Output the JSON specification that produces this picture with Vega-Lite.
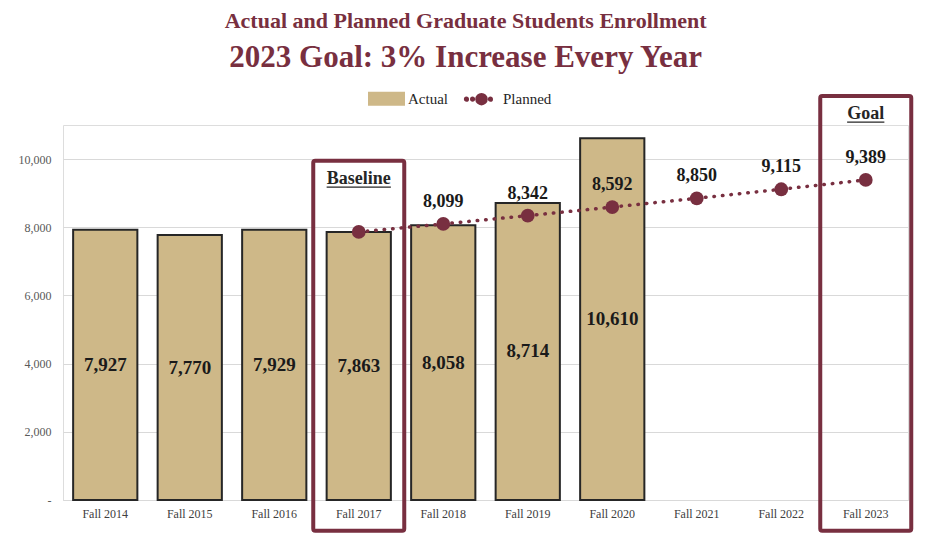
{
  "$schema": "https://vega.github.io/schema/vega-lite/v6.json",
  "description": "Actual vs planned graduate enrollment, 2014-2023",
  "width": 845,
  "height": 375,
  "autosize": {"type": "pad"},
  "padding": {"left": 18, "top": 10, "right": 12, "bottom": 4},
  "background": "white",
  "title": {
    "text": "Actual and Planned Graduate Students Enrollment",
    "subtitle": "2023 Goal: 3% Increase Every Year",
    "font": "Liberation Serif",
    "fontSize": 22,
    "fontWeight": "bold",
    "color": "#782F40",
    "subtitleFont": "Liberation Serif",
    "subtitleFontSize": 31,
    "subtitleFontWeight": "bold",
    "subtitleColor": "#782F40",
    "subtitlePadding": 10,
    "anchor": "middle",
    "frame": "bounds",
    "offset": 6
  },
  "data": {
    "values": [
      {"year": "Fall 2014", "actual": 7927, "planned": null},
      {"year": "Fall 2015", "actual": 7770, "planned": null},
      {"year": "Fall 2016", "actual": 7929, "planned": null},
      {"year": "Fall 2017", "actual": 7863, "planned": 7863},
      {"year": "Fall 2018", "actual": 8058, "planned": 8099},
      {"year": "Fall 2019", "actual": 8714, "planned": 8342},
      {"year": "Fall 2020", "actual": 10610, "planned": 8592},
      {"year": "Fall 2021", "actual": null, "planned": 8850},
      {"year": "Fall 2022", "actual": null, "planned": 9115},
      {"year": "Fall 2023", "actual": null, "planned": 9389}
    ]
  },
  "encoding": {
    "x": {
      "field": "year",
      "type": "ordinal",
      "title": null,
      "scale": {"paddingInner": 0.24, "paddingOuter": 0.12},
      "axis": {
        "labelAngle": 0,
        "labelFont": "Liberation Serif",
        "labelFontSize": 12,
        "labelColor": "#404040",
        "labelPadding": 8,
        "ticks": false,
        "domainColor": "#D9D9D9",
        "grid": false
      }
    }
  },
  "layer": [
    {
      "layer": [
        {
          "mark": {"type": "bar", "fill": "#CEB888", "stroke": "#262626", "strokeWidth": 2},
          "encoding": {
            "y": {
              "field": "actual",
              "type": "quantitative",
              "title": null,
              "scale": {"domain": [0, 11000], "nice": false},
              "axis": {
                "values": [0, 2000, 4000, 6000, 8000, 10000],
                "labelExpr": "datum.value === 0 ? '-' : format(datum.value, ',')",
                "labelFont": "Liberation Serif",
                "labelFontSize": 12,
                "labelColor": "#595959",
                "labelPadding": 12,
                "ticks": false,
                "domain": false,
                "gridColor": "#D9D9D9"
              }
            },
            "color": {
              "datum": "Actual",
              "scale": {"domain": ["Actual", "Planned"], "range": ["#CEB888", "#782F40"]},
              "legend": {
                "orient": "none",
                "legendX": 305,
                "legendY": -45,
                "direction": "horizontal",
                "title": null,
                "labelFont": "Liberation Serif",
                "labelFontSize": 15,
                "labelColor": "#262626",
                "labelOffset": 3,
                "columnPadding": 12,
                "symbolSize": 1225,
                "symbolType": "M-1,-0.34H1V0.34H-1Z",
                "symbolStrokeColor": "#262626",
                "symbolStrokeWidth": 2,
                "symbolOpacity": 1,
                "encode": {
                  "symbols": {
                    "update": {
                      "shape": {"signal": "datum.value === 'Actual' ? 'M-1,-0.34H1V0.34H-1Z' : 'M-0.3,0A0.3,0.3 0 1,0 0.3,0A0.3,0.3 0 1,0 -0.3,0Z M-0.95,0A0.09,0.09 0 1,0 -0.77,0A0.09,0.09 0 1,0 -0.95,0Z M-0.6,0A0.09,0.09 0 1,0 -0.42,0A0.09,0.09 0 1,0 -0.6,0Z M0.42,0A0.09,0.09 0 1,0 0.6,0A0.09,0.09 0 1,0 0.42,0Z'"},
                      "fill": {"signal": "datum.value === 'Actual' ? '#CEB888' : '#782F40'"},
                      "stroke": {"signal": "datum.value === 'Actual' ? '#262626' : 'transparent'"}
                    }
                  }
                }
              }
            }
          }
        },
        {
          "mark": {"type": "line", "strokeWidth": 3.5, "strokeDash": [0.5, 8], "strokeCap": "round"},
          "encoding": {
            "y": {"field": "planned", "type": "quantitative", "title": null},
            "color": {"datum": "Planned", "legend": null}
          }
        },
        {
          "mark": {"type": "point", "filled": true, "size": 190, "opacity": 1},
          "encoding": {
            "y": {"field": "planned", "type": "quantitative", "title": null},
            "color": {"datum": "Planned", "legend": null}
          }
        },
        {
          "transform": [{"filter": "datum.planned != null && datum.year !== 'Fall 2017'"}],
          "mark": {"type": "text", "font": "Liberation Serif", "fontSize": 18, "fontWeight": "bold", "color": "#1a1a1a", "baseline": "alphabetic", "dy": -17},
          "encoding": {
            "y": {"field": "planned", "type": "quantitative", "title": null},
            "text": {"field": "planned", "type": "quantitative", "format": ","}
          }
        },
        {
          "data": {"values": [{"year": "Fall 2017"}]},
          "mark": {"type": "bar", "width": 91, "fill": "white", "fillOpacity": 0, "stroke": "#782F40", "strokeWidth": 4, "cornerRadius": 2, "clip": false},
          "encoding": {"y": {"datum": -900}, "y2": {"datum": 9950}}
        },
        {
          "data": {"values": [{"year": "Fall 2023"}]},
          "mark": {"type": "bar", "width": 91, "fill": "white", "fillOpacity": 0, "stroke": "#782F40", "strokeWidth": 4, "cornerRadius": 2, "clip": false},
          "encoding": {"y": {"datum": -900}, "y2": {"datum": 11850}}
        },
        {
          "data": {"values": [{"year": "Fall 2017", "label": "Baseline"}]},
          "mark": {"type": "text", "font": "Liberation Serif", "fontSize": 18, "fontWeight": "bold", "color": "#262626", "baseline": "alphabetic"},
          "encoding": {"y": {"datum": 9270}, "text": {"field": "label"}}
        },
        {
          "data": {"values": [{"year": "Fall 2017"}]},
          "mark": {"type": "rule", "color": "#262626", "strokeWidth": 1.2},
          "encoding": {
            "x": {"field": "year", "type": "ordinal", "bandPosition": 0},
            "x2": {"field": "year", "bandPosition": 1},
            "y": {"datum": 9180}
          }
        },
        {
          "data": {"values": [{"year": "Fall 2023", "label": "Goal"}]},
          "mark": {"type": "text", "font": "Liberation Serif", "fontSize": 18, "fontWeight": "bold", "color": "#262626", "baseline": "alphabetic"},
          "encoding": {"y": {"datum": 11175}, "text": {"field": "label"}}
        },
        {
          "data": {"values": [{"year": "Fall 2023"}]},
          "mark": {"type": "rule", "color": "#262626", "strokeWidth": 1.2},
          "encoding": {
            "x": {"field": "year", "type": "ordinal", "bandPosition": 0.21},
            "x2": {"field": "year", "bandPosition": 0.79},
            "y": {"datum": 11085}
          }
        }
      ]
    },
    {
      "mark": {"type": "text", "font": "Liberation Serif", "fontSize": 19, "fontWeight": "bold", "color": "#1a1a1a", "baseline": "middle"},
      "encoding": {
        "y": {"field": "actual", "type": "quantitative", "scale": {"domain": [0, 22000], "nice": false}, "axis": null},
        "text": {"field": "actual", "type": "quantitative", "format": ","}
      }
    }
  ],
  "resolve": {"scale": {"y": "independent"}}
}
